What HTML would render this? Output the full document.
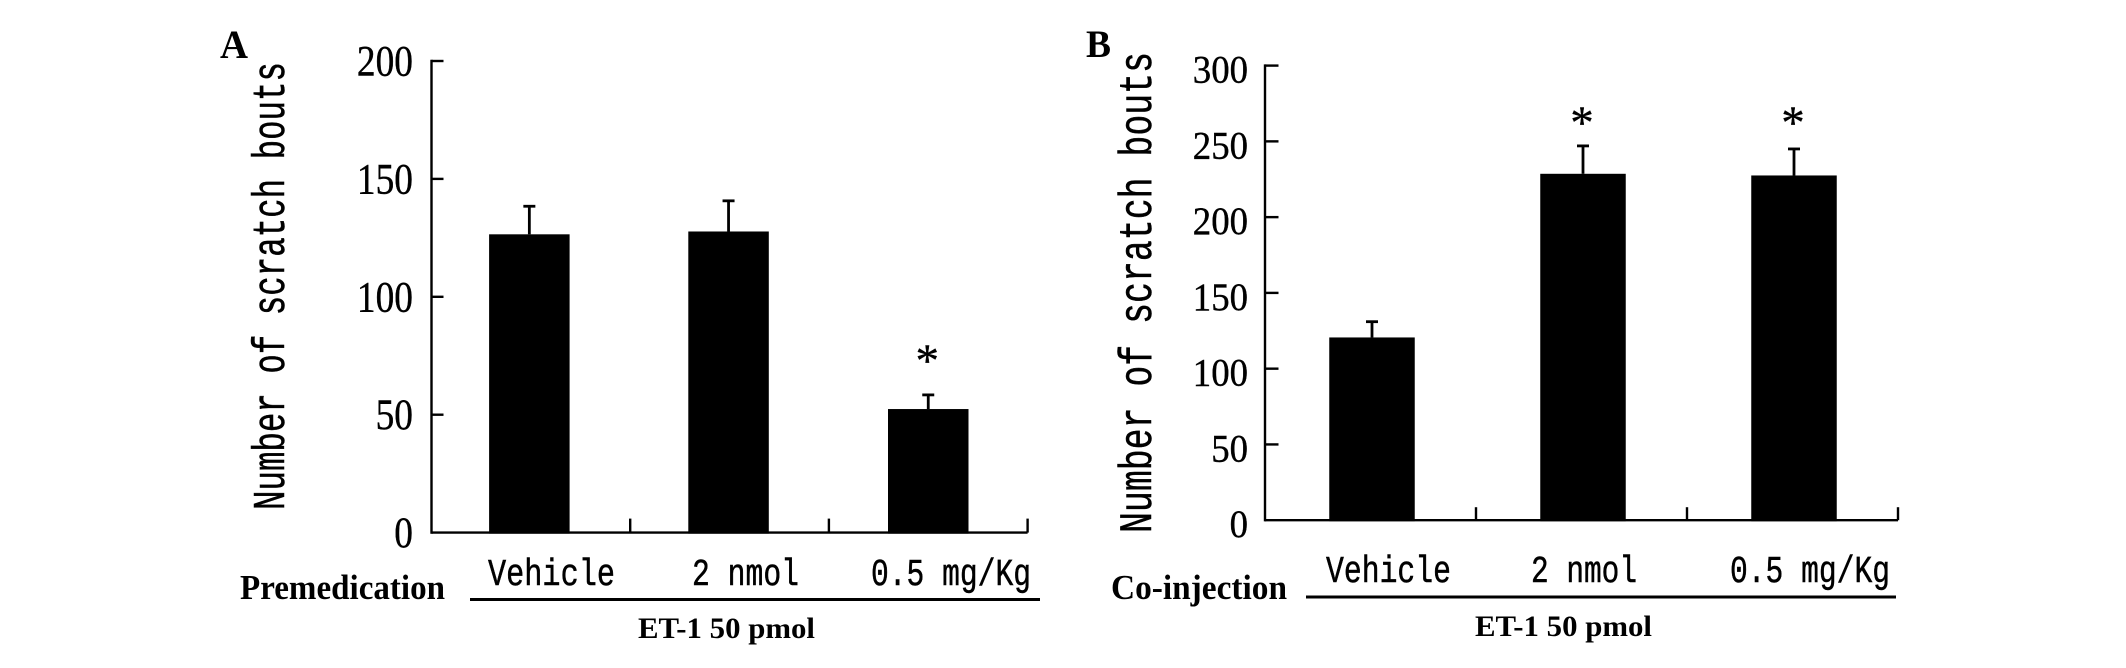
<!DOCTYPE html>
<html lang="en">
<head>
<meta charset="utf-8">
<title>Number of scratch bouts: panels A and B</title>
<style>
  html, body { margin: 0; padding: 0; background: #fff; }
  body { width: 2126px; height: 668px; overflow: hidden; }
  svg { display: block; }
  .mono { font-family: "Liberation Mono", monospace; fill: #000; stroke: #000; stroke-width: 0.5px; }
  .serif { font-family: "Liberation Serif", serif; fill: #000; stroke: #000; stroke-width: 0.4px; }
  .bold { font-family: "Liberation Serif", serif; font-weight: bold; fill: #000; }
</style>
</head>
<body>
<svg id="figure" width="2126" height="668" viewBox="0 0 2126 668" xmlns="http://www.w3.org/2000/svg">
  <rect x="0" y="0" width="2126" height="668" fill="#fff"/>

  <g id="panel-a">
    <text class="bold" x="220" y="58" font-size="40" textLength="28" lengthAdjust="spacingAndGlyphs">A</text>
    <text class="mono" transform="translate(284,510) rotate(-90)" x="0" y="0" font-size="45" textLength="448" lengthAdjust="spacingAndGlyphs">Number of scratch bouts</text>
    <text class="bold" x="240" y="599" font-size="35" textLength="205" lengthAdjust="spacingAndGlyphs">Premedication</text>
    <rect x="470" y="598" width="570" height="3" fill="#000"/>
    <text class="bold" x="638" y="638" font-size="30" textLength="177" lengthAdjust="spacingAndGlyphs">ET-1 50 pmol</text>
  </g>

  <g id="panel-b">
    <text class="bold" x="1086" y="57" font-size="39" textLength="25" lengthAdjust="spacingAndGlyphs">B</text>
    <text class="mono" transform="translate(1151,533) rotate(-90)" x="0" y="0" font-size="46" textLength="481" lengthAdjust="spacingAndGlyphs">Number of scratch bouts</text>
    <text class="bold" x="1111" y="599" font-size="35" textLength="176" lengthAdjust="spacingAndGlyphs">Co-injection</text>
    <rect x="1306" y="595.5" width="590" height="3" fill="#000"/>
    <text class="bold" x="1475" y="636" font-size="30" textLength="177" lengthAdjust="spacingAndGlyphs">ET-1 50 pmol</text>
  </g>
</svg>

<script>
const categories = ['Vehicle', '2 nmol', '0.5 mg/Kg'];

const panelATicks = [0, 50, 100, 150, 200];
const panelAValues = [126.5, 127.7, 52.4];
const panelAErrors = [11.9, 13.0, 6.0];
const panelASignificant = [false, false, true];

const panelBTicks = [0, 50, 100, 150, 200, 250, 300];
const panelBValues = [120.6, 228.6, 227.5];
const panelBErrors = [10.4, 18.4, 17.5];
const panelBSignificant = [false, true, true];

const SVG_NS = 'http://www.w3.org/2000/svg';

function makeY(yZero, yTop, maxValue) {
  return function (v) { return yZero - (v / maxValue) * (yZero - yTop); };
}
function makeX(left, right, count) {
  return function (i) { return left + (right - left) * (i + 0.5) / count; };
}
function line(x1, y1, x2, y2, w) {
  const el = document.createElementNS(SVG_NS, 'line');
  el.setAttribute('x1', x1);
  el.setAttribute('y1', y1);
  el.setAttribute('x2', x2);
  el.setAttribute('y2', y2);
  el.setAttribute('stroke', '#000');
  el.setAttribute('stroke-width', w);
  return el;
}
function label(str, x, y, size, len, cls, anchor) {
  const el = document.createElementNS(SVG_NS, 'text');
  el.setAttribute('x', x);
  el.setAttribute('y', y);
  el.setAttribute('font-size', size);
  el.setAttribute('class', cls);
  if (anchor) el.setAttribute('text-anchor', anchor);
  if (len) {
    el.setAttribute('textLength', len);
    el.setAttribute('lengthAdjust', 'spacingAndGlyphs');
  }
  el.textContent = str;
  return el;
}

function drawPanel(group, prefix, o) {
  const y = makeY(o.yZero, o.yTop, o.ticks[o.ticks.length - 1]);
  const x = makeX(o.axisX, o.axisEnd, o.values.length);

  const yAxis = line(o.axisX, y(o.ticks[o.ticks.length - 1]) - 1.2, o.axisX, o.yZero + 1.2, 2.4);
  
  
  group.appendChild(yAxis);

  const xAxis = line(o.axisX, o.yZero, o.axisEnd, o.yZero, 2.4);
  
  
  group.appendChild(xAxis);

  o.ticks.forEach(function (t) {
    if (t !== 0) {
      const mark = line(o.axisX, y(t), o.axisX + o.tickLen, y(t), 2.4);
      
      
      group.appendChild(mark);
    }
    const text = String(t);
    const lab = label(text, o.tickRight, y(t) + o.tickDy, o.tickSize, text.length * o.digitWidth, 'serif', 'end');
    
    
    group.appendChild(lab);
  });

  o.values.forEach(function (v, i) {
    const cx = x(i) + o.barShift[i];
    const sep = line(o.axisX + (o.axisEnd - o.axisX) * (i + 1) / o.values.length, o.yZero, o.axisX + (o.axisEnd - o.axisX) * (i + 1) / o.values.length, o.yZero - o.xTickLen, 2.4);
    
    
    group.appendChild(sep);

    const errTop = y(v + o.errors[i]);
    const stem = line(cx, y(v), cx, errTop, 2.8);
    
    
    group.appendChild(stem);

    const cap = line(cx - 6, errTop, cx + 6, errTop, 2.8);
    
    
    group.appendChild(cap);

    const bar = document.createElementNS(SVG_NS, 'rect');
    bar.setAttribute('x', cx - o.barWidth / 2);
    bar.setAttribute('y', y(v));
    bar.setAttribute('width', o.barWidth);
    bar.setAttribute('height', o.yZero + 1 - y(v));
    bar.setAttribute('fill', '#000');
    
    
    group.appendChild(bar);

    if (o.significant[i]) {
      const star = label('*', cx - 1, errTop - o.starGap[i] + 21, 47, 0, 'serif', 'middle');
      
      
      group.appendChild(star);
    }

    const cat = label(categories[i], o.catLeft[i], o.catBaseline, 38, o.catWidth[i], 'mono');
    
    
    group.appendChild(cat);
  });
}

drawPanel(document.getElementById('panel-a'), 'panel-a', {
  ticks: panelATicks, values: panelAValues, errors: panelAErrors, significant: panelASignificant,
  yZero: 532.6, yTop: 61, axisX: 431.5, axisEnd: 1027.6,
  tickLen: 12, xTickLen: 14, tickRight: 413, tickDy: 14.5, tickSize: 43, digitWidth: 18.7,
  barWidth: 80.5, barShift: [-1.5, -1, 0], starGap: [0, 0, 40],
  catLeft: [488, 692, 871], catWidth: [127, 107, 160], catBaseline: 585
});

drawPanel(document.getElementById('panel-b'), 'panel-b', {
  ticks: panelBTicks, values: panelBValues, errors: panelBErrors, significant: panelBSignificant,
  yZero: 520.2, yTop: 65.6, axisX: 1265, axisEnd: 1898,
  tickLen: 13.5, xTickLen: 13, tickRight: 1248, tickDy: 17, tickSize: 39, digitWidth: 18.4,
  barWidth: 85.5, barShift: [1.5, 1.5, 1.5], starGap: [0, 29, 32],
  catLeft: [1326, 1531, 1730], catWidth: [125, 106, 160], catBaseline: 582
});
</script>
</body>
</html>
